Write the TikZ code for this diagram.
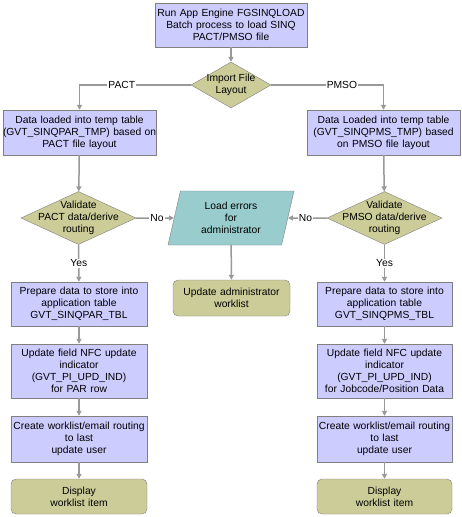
\documentclass[tikz,border=0pt]{standalone}
\usepackage{fontspec}
\setmainfont{Liberation Sans}
\usepackage{tikz}
\usetikzlibrary{arrows.meta,shapes.geometric,calc}
\definecolor{boxfill}{HTML}{CCCCFF}
\definecolor{decfill}{HTML}{CCCC99}
\definecolor{errfill}{HTML}{99CCCC}
\definecolor{edge}{HTML}{808080}
\definecolor{link}{HTML}{999999}
\tikzset{
  procbox/.style={rectangle,draw=edge,fill=boxfill,align=center,inner sep=0pt,text width=#1},
  endbox/.style={rectangle,rounded corners=5pt,draw=edge,fill=decfill,align=center,inner sep=0pt,text width=#1},
  decision/.style={diamond,draw=edge,fill=decfill,inner sep=0pt,minimum width=#1},
  errbox/.style={trapezium,trapezium left angle=72,trapezium right angle=108,trapezium stretches body,
    draw=edge,fill=errfill,align=center,minimum width=126,minimum height=54},
  flow/.style={draw=link,line width=1.5pt,-{Triangle[length=5pt,width=5pt]}},
  lbl/.style={fill=white,inner sep=1pt}
}
\begin{document}
\begin{tikzpicture}[x=1pt,y=-1pt,font=\fontsize{10.3}{12}\selectfont]
\useasboundingbox[fill=white] (0,0) rectangle (462,517);
% top
\node[procbox=152,minimum height=44] (run) at (231,25) {Run App Engine FGSINQLOAD\\Batch process to load SINQ\\PACT/PMSO file};
\node[decision=80,minimum height=46,label={[align=center]center:{Import File\\Layout}}] (imp) at (231,85) {};
% temp tables
\node[procbox=153,minimum height=45] (ldp) at (79.5,132.5) {Data loaded into temp table\\\mbox{(GVT\_SINQPAR\_TMP) based on}\\PACT file layout};
\node[procbox=153,minimum height=45] (lds) at (383.5,132.5) {Data Loaded into temp table\\(GVT\_SINQPMS\_TMP) based\\on PMSO file layout};
% validation
\node[decision=115,minimum height=53,label={[align=center]center:{Validate\\PACT data/derive\\routing}}] (vp) at (78.5,218) {};
\node[decision=115,minimum height=53,label={[align=center]center:{Validate\\PMSO data/derive\\routing}}] (vs) at (384.5,218) {};
\node[errbox] (err) at (231,218) {Load errors\\for\\administrator};
\node[endbox=117,minimum height=36] (adm) at (231.5,298) {Update administrator\\worklist};
% PACT column
\node[procbox=136,minimum height=44] (pp) at (79,304) {Prepare data to store into\\application table\\GVT\_SINQPAR\_TBL};
\node[procbox=136,minimum height=54] (up) at (79,371) {Update field NFC update\\indicator\\(GVT\_PI\_UPD\_IND)\\for PAR row};
\node[procbox=136,minimum height=46] (cp) at (79,439) {Create worklist/email routing\\to last\\update user};
\node[endbox=136,minimum height=35] (dp) at (79,496.5) {Display\\worklist item};
% PMSO column
\node[procbox=135,minimum height=44] (ps) at (384.5,304) {Prepare data to store into\\application table\\GVT\_SINQPMS\_TBL};
\node[procbox=135,minimum height=54] (us) at (384.5,371) {Update field NFC update\\indicator\\(GVT\_PI\_UPD\_IND)\\for Jobcode/Position Data};
\node[procbox=135,minimum height=46] (cs) at (384.5,439) {Create worklist/email routing\\to last\\update user};
\node[endbox=135,minimum height=35] (ds) at (384.5,496.5) {Display\\worklist item};
% connectors
\draw[flow] (run) -- (imp);
\draw[flow] (imp.west) -- node[lbl,pos=.62]{PACT} (imp.west -| ldp.north) -- (ldp.north);
\draw[flow] (imp.east) -- node[lbl,pos=.63]{PMSO} (imp.east -| lds.north) -- (lds.north);
\draw[flow] (ldp) -- (vp);
\draw[flow] (lds) -- (vs);
\draw[flow] (vp) -- node[lbl]{Yes} (pp);
\draw[flow] (vs) -- node[lbl]{Yes} (ps);
\draw[flow] (vp.east) -- node[lbl,pos=.55]{No} (err);
\draw[flow] (vs.west) -- node[lbl,pos=.55]{No} (err);
\draw[flow] (err) -- (adm);
\draw[flow] (pp) -- (up);
\draw[flow] (up) -- (cp);
\draw[flow] (cp) -- (dp);
\draw[flow] (ps) -- (us);
\draw[flow] (us) -- (cs);
\draw[flow] (cs) -- (ds);
\end{tikzpicture}
\end{document}
